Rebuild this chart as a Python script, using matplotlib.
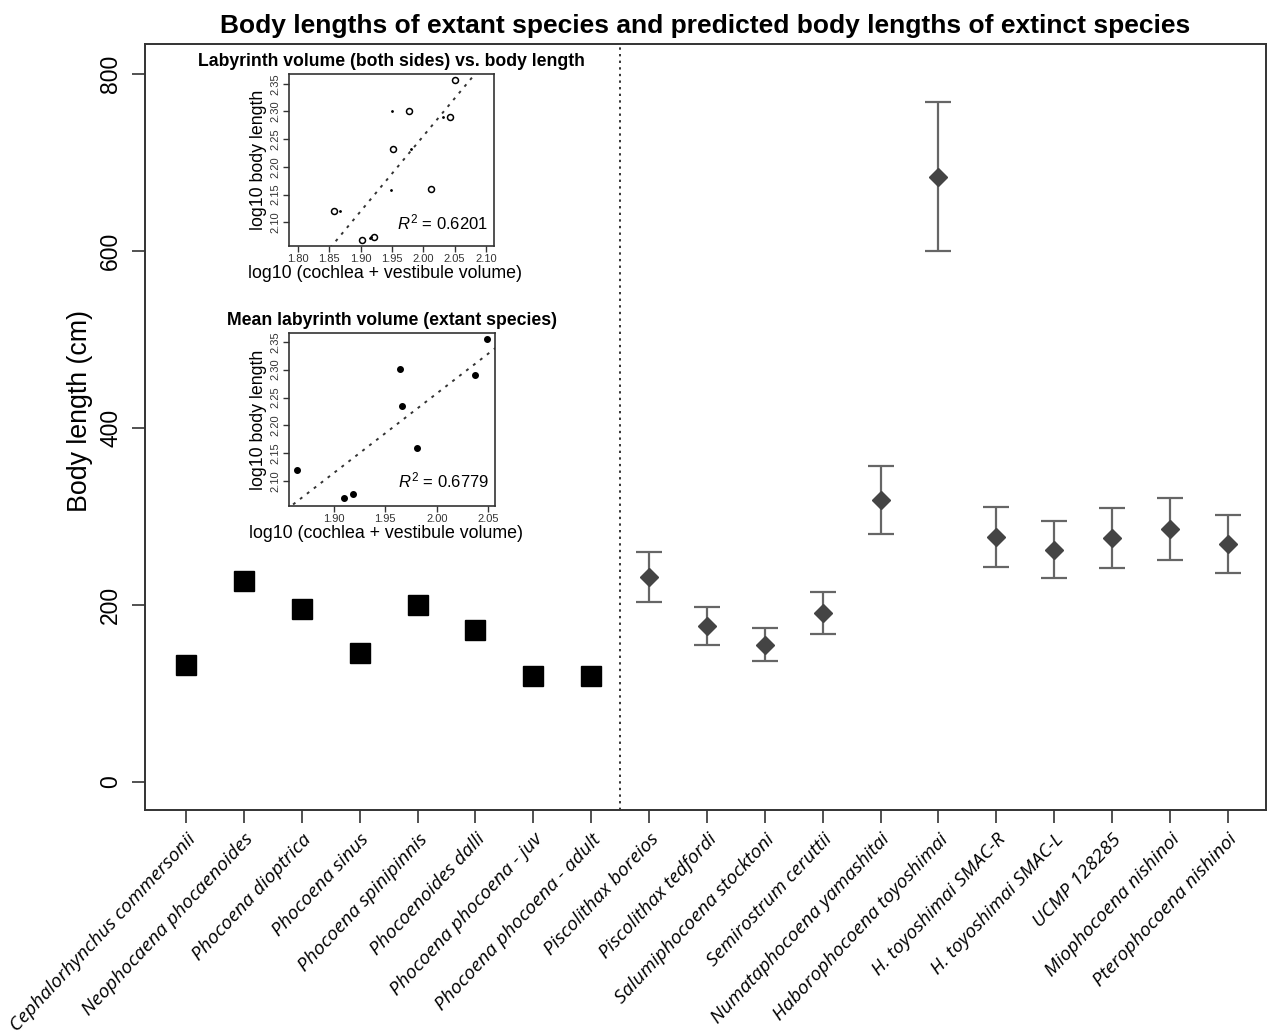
import numpy as np
import matplotlib
matplotlib.use("Agg")
import matplotlib.pyplot as plt

plt.rcParams["font.family"] = ["Liberation Sans", "DejaVu Sans"]
plt.rcParams["mathtext.fontset"] = "custom"
plt.rcParams["mathtext.rm"] = "Liberation Sans"
plt.rcParams["mathtext.it"] = "Liberation Sans:italic"

# --- main panel data ---
species = ["Cephalorhynchus commersonii", "Neophocaena phocaenoides",
           "Phocoena dioptrica", "Phocoena sinus", "Phocoena spinipinnis",
           "Phocoenoides dalli", "Phocoena phocoena - juv",
           "Phocoena phocoena - adult", "Piscolithax boreios",
           "Piscolithax tedfordi", "Salumiphocoena stocktoni",
           "Semirostrum ceruttii", "Numataphocoena yamashitai",
           "Haborophocoena toyoshimai", "H. toyoshimai SMAC-R",
           "H. toyoshimai SMAC-L", "UCMP 128285", "Miophocoena nishinoi",
           "Pterophocoena nishinoi"]
extant_len = [132, 227, 195, 145, 200, 171, 119, 119]
extinct_pred = [231, 176, 155, 191, 319, 684, 277, 262, 276, 286, 269]
extinct_lo = [203, 155, 136, 167, 280, 600, 243, 230, 242, 251, 236]
extinct_hi = [260, 197, 174, 214, 357, 768, 311, 295, 310, 321, 302]

# --- inset 1: both sides (circles = one side, dots = other side) ---
side1_x = [1.857, 1.902, 1.922, 1.952, 1.977, 2.012, 2.042, 2.050]
side1_y = [2.120, 2.068, 2.073, 2.232, 2.301, 2.160, 2.290, 2.356]
side2_x = [1.868, 1.915, 1.916, 1.981, 1.950, 1.948, 2.031]
side2_y = [2.121, 2.071, 2.074, 2.232, 2.301, 2.159, 2.290]
fit1 = (1.359, -0.4626)
r2_1 = 0.6201

# --- inset 2: species means ---
mean_x = [1.864, 1.910, 1.919, 1.964, 1.966, 1.981, 2.037, 2.049]
mean_y = [2.120, 2.069, 2.076, 2.301, 2.235, 2.160, 2.290, 2.356]
fit2 = (1.427, -0.5968)
r2_2 = 0.6779

fig = plt.figure(figsize=(12.7, 10.36), dpi=100)
ax = fig.add_axes([0.1142, 0.2181, 0.8827, 0.7394])

n_ext = len(extant_len)
xe = np.arange(1, n_ext + 1)
xf = np.arange(n_ext + 1, len(species) + 1)
ax.plot(xe, extant_len, "s", color="black", ms=15, zorder=3)
pred = np.array(extinct_pred)
yerr = [pred - np.array(extinct_lo), np.array(extinct_hi) - pred]
ax.errorbar(xf, pred, yerr=yerr, fmt="D", color="#444444", ecolor="#666666",
            ms=9, elinewidth=1.6, capsize=9.5, capthick=1.6, zorder=3)
ax.axvline(n_ext + 0.5, color="#333333", ls=(0, (1.2, 2.2)), lw=1.4)

ax.set_xlim(0.29, 19.66)
ax.set_ylim(-32, 834)
ax.set_xticks(np.arange(1, len(species) + 1))
ax.set_xticklabels(species, rotation=47, ha="right", va="top",
                   rotation_mode="anchor", fontstyle="italic",
                   family=["Open Sans", "DejaVu Sans"], fontsize=13.9)
ax.set_yticks([0, 200, 400, 600, 800])
ax.set_yticklabels(["0", "200", "400", "600", "800"], rotation=90,
                   va="center", fontsize=16.5)
ax.tick_params(axis="both", length=9.5, width=1.2, color="#333333")
ax.tick_params(axis="x", pad=5)
ax.tick_params(axis="y", pad=7)
for s in ax.spines.values():
    s.set_color("#333333")
    s.set_linewidth(1.4)
ax.set_ylabel("Body length (cm)", fontsize=19.3)
ax.yaxis.set_label_coords(-0.046, 0.521)
ax.set_title("Body lengths of extant species and predicted body lengths of extinct species",
             fontsize=19, fontweight="bold", pad=8)


def style_inset(a, xt, yt, xl, yl, title):
    a.set_xlim(*xl)
    a.set_ylim(*yl)
    a.set_xticks(xt)
    a.set_xticklabels([f"{v:.2f}" for v in xt], fontsize=8, color="#333333")
    a.set_yticks(yt)
    a.set_yticklabels([f"{v:.2f}" for v in yt], fontsize=8, rotation=90,
                      va="center", color="#333333")
    a.tick_params(length=4, width=1, color="#333333", pad=2)
    for s in a.spines.values():
        s.set_color("#333333")
        s.set_linewidth(1.2)
    a.set_xlabel("log10 (cochlea + vestibule volume)", fontsize=12.8, labelpad=1)
    a.xaxis.set_label_coords(0.47, -0.11)
    a.set_ylabel("log10 body length", fontsize=12.8, labelpad=3)
    a.set_title(title, fontsize=12.7, fontweight="bold", pad=6)


# inset 1
a1 = fig.add_axes([0.2276, 0.7625, 0.1614, 0.166])
a1.plot(side1_x, side1_y, "o", mfc="none", mec="black", ms=4.3, mew=1.1)
a1.plot(side2_x, side2_y, ".", color="black", ms=2)
xx = np.linspace(1.78, 2.12, 50)
a1.plot(xx, fit1[0] * xx + fit1[1], color="#333333", ls=(0, (1.5, 3)), lw=1.4)
style_inset(a1, np.arange(1.80, 2.101, 0.05), np.arange(2.10, 2.351, 0.05),
            (1.786, 2.113), (2.057, 2.3675),
            "Labyrinth volume (both sides) vs. body length")
a1.text(2.103, 2.10, rf"$R^2$ = {r2_1}", fontsize=12, ha="right", va="center")

# inset 2
a2 = fig.add_axes([0.2276, 0.5116, 0.1622, 0.167])
a2.plot(mean_x, mean_y, "o", color="black", ms=4)
xx = np.linspace(1.84, 2.07, 50)
a2.plot(xx, fit2[0] * xx + fit2[1], color="#333333", ls=(0, (1.5, 3)), lw=1.4)
style_inset(a2, np.arange(1.90, 2.051, 0.05), np.arange(2.10, 2.351, 0.05),
            (1.8563, 2.0568), (2.055, 2.366),
            "Mean labyrinth volume (extant species)")
a2.text(2.051, 2.10, rf"$R^2$ = {r2_2}", fontsize=12, ha="right", va="center")

fig.savefig("out.png", dpi=100)
